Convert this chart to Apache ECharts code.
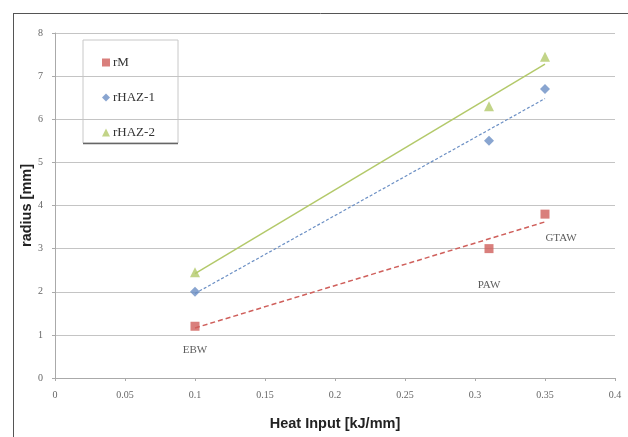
<!DOCTYPE html>
<html><head><meta charset="utf-8">
<script src="https://cdn.jsdelivr.net/npm/echarts@6/dist/echarts.min.js"></script>
<style>html,body{margin:0;padding:0;background:#fff}#c{width:628px;height:437px}</style>
</head><body><div id="c"></div>
<script>
// data
var heatInput = [0.1, 0.31, 0.35];
var rM = [1.2, 3.0, 3.8];
var rHAZ1 = [2.0, 5.5, 6.7];
var rHAZ2 = [2.45, 6.3, 7.45];
var processLabels = ['EBW', 'PAW', 'GTAW'];
// trendline end points (x, y)
var trendX = [0.1, 0.35];
var trendRM = [1.16, 3.62];
var trendHAZ1 = [1.96, 6.48];
var trendHAZ2 = [2.42, 7.28];
var seriesNames = ['rM', 'rHAZ-1', 'rHAZ-2'];

var red = '#cf5f5b', blue = '#6b8fc4', green = '#b3c96a';
function pts(xs, ys){ return xs.map(function(x,i){ return [x, ys[i]]; }); }
var labelCfg = [
  {position:'bottom', distance:14},
  {position:'bottom', distance:26},
  {position:'bottom', distance:14, offset:[16,0]}
];
var rMData = pts(heatInput, rM).map(function(p,i){
  return {value:p, label:Object.assign({show:true, formatter:processLabels[i]}, labelCfg[i])};
});
var chart = echarts.init(document.getElementById('c'));
chart.setOption({
  animation:false,
  backgroundColor:'#fff',
  grid:{left:55, right:13, top:33, bottom:59, containLabel:false},
  xAxis:{
    type:'value', min:0, max:0.4, interval:0.05,
    name:'Heat Input [kJ/mm]', nameLocation:'middle', nameGap:38,
    nameTextStyle:{fontFamily:'Liberation Sans', fontWeight:'bold', fontSize:14.5, color:'#222'},
    axisLine:{show:true, lineStyle:{color:'#aaa'}},
    axisTick:{show:true, length:3, lineStyle:{color:'#aaa'}},
    axisLabel:{fontFamily:'Liberation Serif', fontSize:10, color:'#666', margin:12},
    splitLine:{show:false}
  },
  yAxis:{
    type:'value', min:0, max:8, interval:1,
    name:'radius [mm]', nameLocation:'middle', nameGap:21, nameRotate:90, nameMoveOverlap:false,
    nameTextStyle:{fontFamily:'Liberation Sans', fontWeight:'bold', fontSize:14.5, color:'#222'},
    axisLine:{show:true, lineStyle:{color:'#aaa'}},
    axisTick:{show:true, length:3, lineStyle:{color:'#aaa'}},
    axisLabel:{fontFamily:'Liberation Serif', fontSize:10, color:'#666', margin:12},
    splitLine:{show:true, lineStyle:{color:'#c4c4c4', width:1}}
  },
  legend:{
    orient:'vertical', left:97, top:51, itemGap:22, itemWidth:8, itemHeight:8,
    data:seriesNames,
    textStyle:{fontFamily:'Liberation Serif', fontSize:13, color:'#333', padding:[0,0,0,-2]}
  },
  graphic:[
    {type:'line', shape:{x1:13, y1:13.5, x2:628, y2:13.5}, style:{stroke:'#555', lineWidth:1}, z:100},
    {type:'line', shape:{x1:13.5, y1:13, x2:13.5, y2:437}, style:{stroke:'#555', lineWidth:1}, z:100},
    {type:'rect', shape:{x:83, y:40, width:95, height:103}, style:{fill:'#fff', stroke:'#c8c8c8', lineWidth:1}, z:0, zlevel:0},
    {type:'line', shape:{x1:83, y1:143.5, x2:178, y2:143.5}, style:{stroke:'#666', lineWidth:1.5}, z:1}
  ],
  series:[
    {name:'rM', type:'scatter', symbol:'rect', symbolSize:9, itemStyle:{color:red}, data:rMData, z:5,
      label:{fontFamily:'Liberation Serif', fontSize:11, color:'#333'}},
    {name:'rHAZ-1', type:'scatter', symbol:'diamond', symbolSize:10, itemStyle:{color:blue}, data:pts(heatInput, rHAZ1), z:5},
    {name:'rHAZ-2', type:'scatter', symbol:'triangle', symbolSize:10, itemStyle:{color:green}, data:pts(heatInput, rHAZ2), z:5},
    {name:'trend rM', type:'line', showSymbol:false, symbol:'none', data:pts(trendX, trendRM),
      lineStyle:{color:red, width:1.5, type:[5,3]}, z:3, silent:true},
    {name:'trend rHAZ-1', type:'line', showSymbol:false, symbol:'none', data:pts(trendX, trendHAZ1),
      lineStyle:{color:blue, width:1.2, type:[3,2]}, z:3, silent:true},
    {name:'trend rHAZ-2', type:'line', showSymbol:false, symbol:'none', data:pts(trendX, trendHAZ2),
      lineStyle:{color:green, width:1.5}, z:3, silent:true}
  ]
});
</script></body></html>
